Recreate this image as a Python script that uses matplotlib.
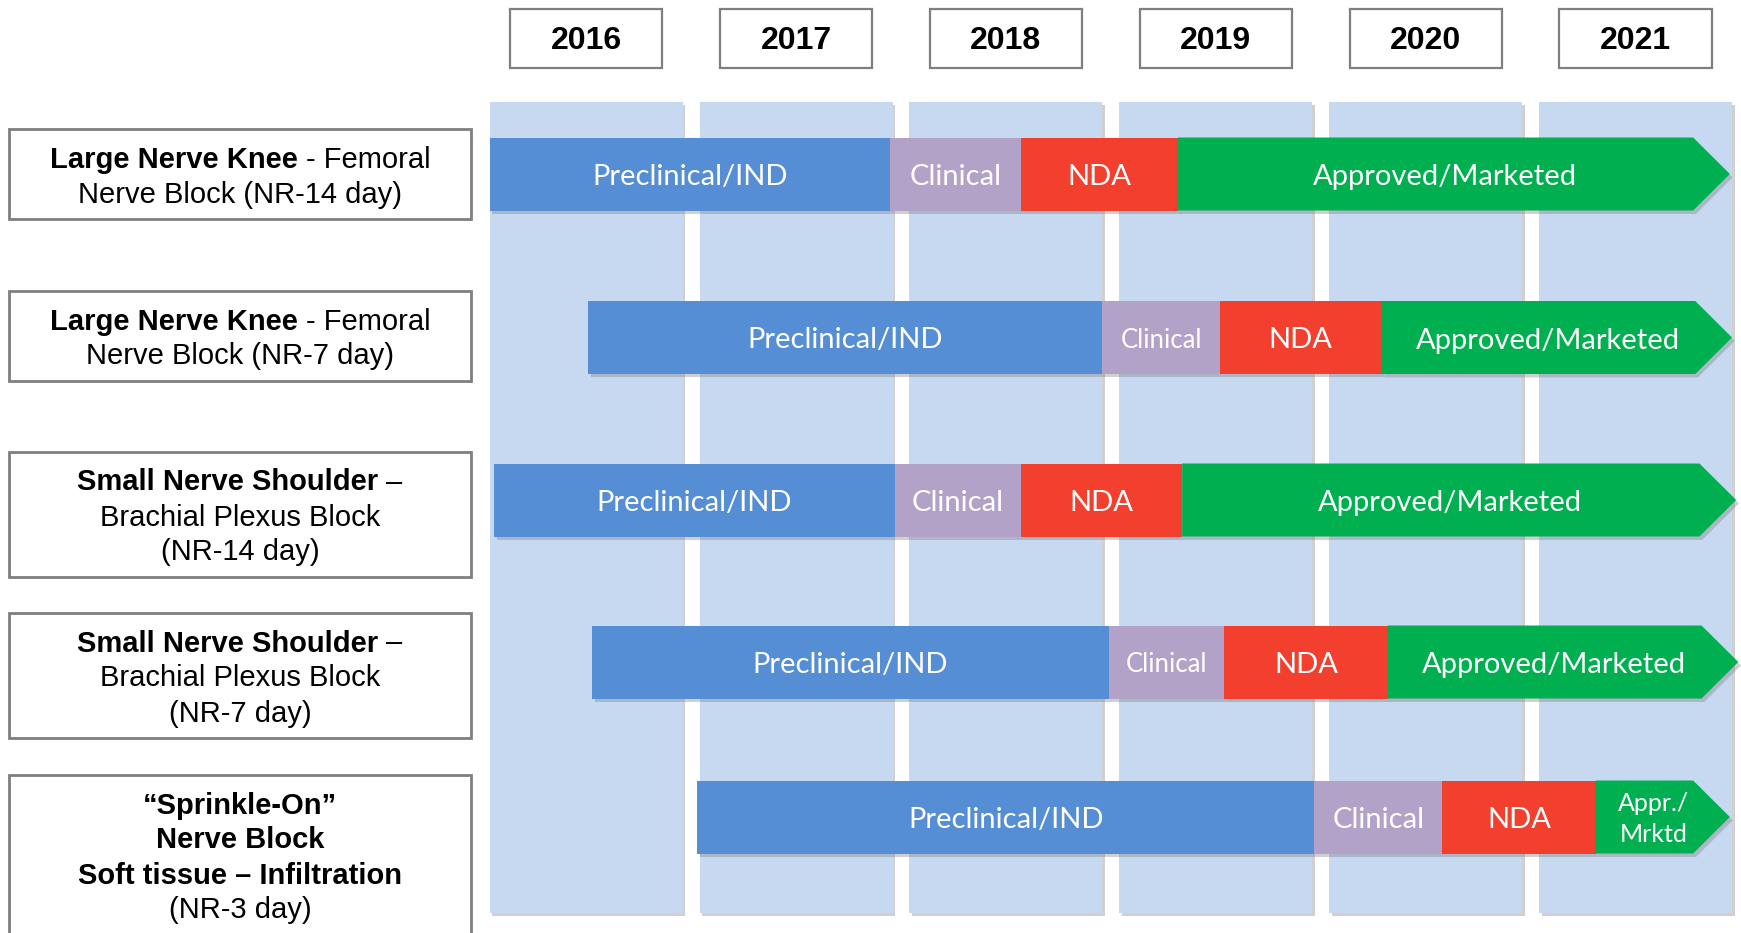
import matplotlib.pyplot as plt
import matplotlib.patheffects as pe
from matplotlib.patches import Rectangle, Polygon

# ---- data ----
years = [2016, 2017, 2018, 2019, 2020, 2021]
phases = ["Preclinical/IND", "Clinical", "NDA", "Approved/Marketed"]
short_last_phase = "Appr./\nMrktd"

# phase boundaries per program, in fractional years (last value = arrow tip)
program_edges = [
    [2016.00, 2017.91, 2018.53, 2019.28, 2021.91],
    [2016.47, 2018.92, 2019.48, 2020.25, 2021.92],
    [2016.02, 2017.93, 2018.53, 2019.30, 2021.94],
    [2016.49, 2018.95, 2019.50, 2020.28, 2021.95],
    [2016.99, 2019.93, 2020.54, 2021.27, 2021.91],
]

program_labels = [
    [[("Large Nerve Knee", "bold"), ("- Femoral", "normal")],
     [("Nerve Block (NR-14 day)", "normal")]],
    [[("Large Nerve Knee", "bold"), ("- Femoral", "normal")],
     [("Nerve Block (NR-7 day)", "normal")]],
    [[("Small Nerve Shoulder", "bold"), ("–", "normal")],
     [("Brachial Plexus Block", "normal")],
     [("(NR-14 day)", "normal")]],
    [[("Small Nerve Shoulder", "bold"), ("–", "normal")],
     [("Brachial Plexus Block", "normal")],
     [("(NR-7 day)", "normal")]],
    [[("“Sprinkle-On”", "bold")],
     [("Nerve Block", "bold")],
     [("Soft tissue – Infiltration", "bold")],
     [("(NR-3 day)", "normal")]],
]

# ---- style / layout ----
phase_colors = ["#558ED5", "#B3A2C7", "#F23F2E", "#00B050"]
col_color = "#C6D9F1"
edge_gray = "#7F7F7F"
W, H = 1741, 933
row_y = [174, 337.5, 500, 662, 817]
bar_h = 73
label_box = [(129, 90), (291, 90), (452, 125), (613, 125), (775, 190)]
label_mid = [175, 336.5, 515, 676, 855.5]
line_pitch = 35
label_size = 21
bar_font = "Lato"
arial = "Liberation Sans"
tip = 0.175
col_w = 0.92

shadow = [pe.SimplePatchShadow(offset=(2, -2.5), shadow_rgbFace="#7a7a7a", alpha=0.35), pe.Normal()]

fig = plt.figure(figsize=(W / 100, H / 100), dpi=100)
ax_lab = fig.add_axes([0, 0, 1, 1])
ax_lab.set_xlim(0, W)
ax_lab.set_ylim(H, 0)
ax_lab.axis("off")

ax = fig.add_axes([0, 0, 1, 1])
ax.set_xlim(2016 - 489.66 / 209.85, 2016 + (W - 489.66) / 209.85)
ax.set_ylim(H, 0)
ax.axis("off")
ax.patch.set_alpha(0)

renderer = fig.canvas.get_renderer()


def draw_line(xc, y, parts, size):
    em = size * 100 / 72
    base = y + 0.36 * em
    texts = [ax_lab.text(0, base, s, fontsize=size, fontweight=w, family=arial,
                         ha="left", va="baseline") for s, w in parts]
    widths = [t.get_window_extent(renderer).width for t in texts]
    gap = 0.278 * em
    x = xc - (sum(widths) + gap * (len(texts) - 1)) / 2
    for t, w in zip(texts, widths):
        t.set_x(x)
        x += w + gap


# year columns and headers
for y in years:
    ax.add_patch(Rectangle((y, 102), col_w, 811, fc=col_color, ec="none", path_effects=shadow))
    xc = y + col_w / 2
    ax.add_patch(Rectangle((xc - 0.3625, 9), 0.725, 59, fc="white", ec=edge_gray, lw=1.6))
    ax.text(xc, 41, str(y), ha="center", va="center", fontsize=23, fontweight="bold", family=arial)

# program label boxes
for (top, h), mid, lines in zip(label_box, label_mid, program_labels):
    ax_lab.add_patch(Rectangle((9, top), 462, h, fc="white", ec=edge_gray, lw=2, clip_on=True))
    first = mid - line_pitch * (len(lines) - 1) / 2
    for i, parts in enumerate(lines):
        draw_line(240, first + i * line_pitch, parts, label_size)

# phase bars
for yc, edges in zip(row_y, program_edges):
    top, bot = yc - bar_h / 2, yc + bar_h / 2
    for i, name in enumerate(phases):
        s, e = edges[i], edges[i + 1]
        if i == len(phases) - 1:
            pts = [(s, top), (e - tip, top), (e, yc), (e - tip, bot), (s, bot)]
            ax.add_patch(Polygon(pts, closed=True, fc=phase_colors[i], ec="none", path_effects=shadow))
            xt = (s + e - tip / 2) / 2
            if e - s < 1.0:
                ax.text(xt, yc + 2, short_last_phase, ha="center", va="center", color="white",
                        fontsize=18, family=bar_font, linespacing=1.4)
                continue
        else:
            ax.add_patch(Rectangle((s, top), e - s, bar_h, fc=phase_colors[i], ec="none", path_effects=shadow))
            xt = (s + e) / 2
        size = 18.5 if (i == 1 and e - s < 0.58) else 21
        ax.text(xt, yc + 3, name, ha="center", va="center", color="white", fontsize=size, family=bar_font)

fig.savefig("out.png", dpi=100)
